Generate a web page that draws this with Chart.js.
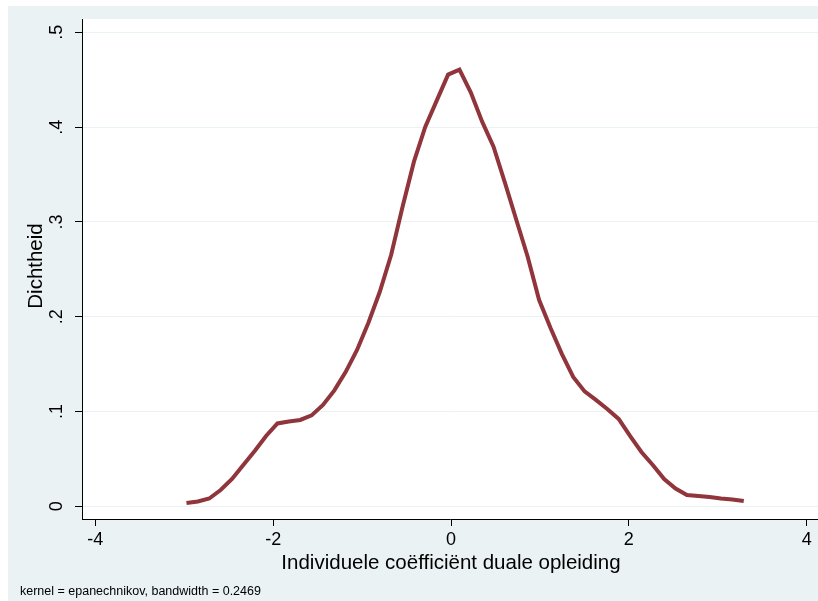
<!DOCTYPE html>
<html>
<head>
<meta charset="utf-8">
<script src="https://cdn.jsdelivr.net/npm/chart.js@4"></script>
<style>
    body { margin: 0; background: #ffffff; }
    canvas { display: block; }
</style>
</head>
<body>
<canvas id="densityChart" width="818" height="601"></canvas>
<script>
// kernel density estimate, 50 evaluation points
const gridPoints = [
    -2.975, -2.847, -2.719, -2.591, -2.463, -2.336, -2.208, -2.080, -1.952, -1.824,
    -1.696, -1.568, -1.440, -1.312, -1.184, -1.057, -0.929, -0.801, -0.673, -0.545,
    -0.417, -0.289, -0.161, -0.033, 0.095, 0.223, 0.350, 0.478, 0.606, 0.734,
    0.862, 0.990, 1.118, 1.246, 1.374, 1.502, 1.629, 1.757, 1.885, 2.013,
    2.141, 2.269, 2.397, 2.525, 2.653, 2.781, 2.908, 3.036, 3.164, 3.292
];
const densityValues = [
    0.0035, 0.0051, 0.0082, 0.0172, 0.0288, 0.0436, 0.0584, 0.0742, 0.0874, 0.0895,
    0.0911, 0.0959, 0.1070, 0.1223, 0.1418, 0.1650, 0.1936, 0.2263, 0.2654, 0.3160,
    0.3636, 0.4005, 0.4280, 0.4554, 0.4607, 0.4364, 0.4058, 0.3794, 0.3414, 0.3023,
    0.2633, 0.2178, 0.1883, 0.1608, 0.1365, 0.1212, 0.1123, 0.1027, 0.0922, 0.0742,
    0.0573, 0.0436, 0.0288, 0.0188, 0.0119, 0.0109, 0.0098, 0.0082, 0.0072, 0.0056
];
const xTicks = [-4, -2, 0, 2, 4];
const yTicks = [0, 0.1, 0.2, 0.3, 0.4, 0.5];
const yTickLabels = ['0', '.1', '.2', '.3', '.4', '.5'];

const xTitle = 'Individuele coëfficiënt duale opleiding';
const yTitle = 'Dichtheid';
const noteText = 'kernel = epanechnikov, bandwidth = 0.2469';

chartApp = {

    font: '"Liberation Sans", Arial, Helvetica, sans-serif',
    lineColor: '#90353b',
    bgColor: '#eaf2f3',

    // background, text that Stata puts around the plot region
    framePlugin: {
        id: 'stataFrame',
        beforeDraw: function (chart) {
            const ctx = chart.ctx;
            const area = chart.chartArea;
            ctx.save();
            ctx.fillStyle = '#ffffff';
            ctx.fillRect(0, 0, chart.width, chart.height);
            ctx.fillStyle = chartApp.bgColor;
            ctx.fillRect(8, 6, chart.width - 8, chart.height - 6);
            ctx.fillStyle = '#ffffff';
            ctx.fillRect(area.left, area.top, area.right - area.left, area.bottom - area.top);
            ctx.restore();
        },
        afterDraw: function (chart) {
            const ctx = chart.ctx;
            const area = chart.chartArea;
            const yScale = chart.scales.y;
            ctx.save();
            ctx.fillStyle = '#000000';

            // rotated y tick labels
            ctx.font = '18px ' + chartApp.font;
            ctx.textAlign = 'center';
            ctx.textBaseline = 'alphabetic';
            yTicks.forEach((v, i) => {
                ctx.save();
                ctx.translate(62, yScale.getPixelForValue(v));
                ctx.rotate(-Math.PI / 2);
                ctx.fillText(yTickLabels[i], 0, 0);
                ctx.restore();
            });

            // y title
            ctx.font = '20.5px ' + chartApp.font;
            ctx.save();
            ctx.translate(42, (area.top + area.bottom) / 2 - 3);
            ctx.rotate(-Math.PI / 2);
            ctx.fillText(yTitle, 0, 0);
            ctx.restore();

            // x title
            ctx.fillText(xTitle, (area.left + area.right) / 2 + 1, 569);

            // note
            ctx.font = '12.5px ' + chartApp.font;
            ctx.textAlign = 'left';
            ctx.fillText(noteText, 20, 595);
            ctx.restore();
        }
    },

    initDensityChart: function (chartElement) {

        const points = gridPoints.map((x, i) => ({ x: x, y: densityValues[i] }));

        const data = {
            datasets: [{
                data: points,
                borderColor: this.lineColor,
                borderWidth: 4,
                pointRadius: 0,
                tension: 0,
                fill: false
            }]
        };

        const chartConfig = {
            type: 'line',
            data: data,
            options: {
                responsive: false,
                animation: false,
                devicePixelRatio: 1,
                layout: {
                    padding: { left: 0, right: 0, top: 19, bottom: 0 }
                },
                plugins: {
                    legend: { display: false },
                    tooltip: { enabled: false }
                },
                scales: {
                    x: {
                        type: 'linear',
                        min: -4.15,
                        max: 4.127,
                        afterBuildTicks: function (scale) {
                            scale.ticks = xTicks.map(v => ({ value: v }));
                        },
                        afterFit: function (scale) {
                            scale.height = 82;
                        },
                        border: { display: true, color: '#000000', width: 1 },
                        grid: {
                            drawOnChartArea: false,
                            drawTicks: true,
                            tickLength: 7,
                            tickColor: '#000000'
                        },
                        ticks: {
                            color: '#000000',
                            padding: 3,
                            maxRotation: 0,
                            font: { family: this.font, size: 18 },
                            callback: function (value) {
                                return String(value);
                            }
                        }
                    },
                    y: {
                        type: 'linear',
                        min: -0.0134,
                        max: 0.5141,
                        afterBuildTicks: function (scale) {
                            scale.ticks = yTicks.map(v => ({ value: v }));
                        },
                        afterFit: function (scale) {
                            scale.width = 82;
                        },
                        border: { display: true, color: '#000000', width: 1 },
                        grid: {
                            color: this.bgColor,
                            lineWidth: 1,
                            drawTicks: true,
                            tickLength: 7,
                            tickColor: '#000000'
                        },
                        ticks: { display: false }
                    }
                }
            },
            plugins: [this.framePlugin]
        };

        const myChart = new Chart(
            chartElement,
            chartConfig
        );
    }
};

chartApp.initDensityChart(document.getElementById('densityChart'));
</script>
</body>
</html>
